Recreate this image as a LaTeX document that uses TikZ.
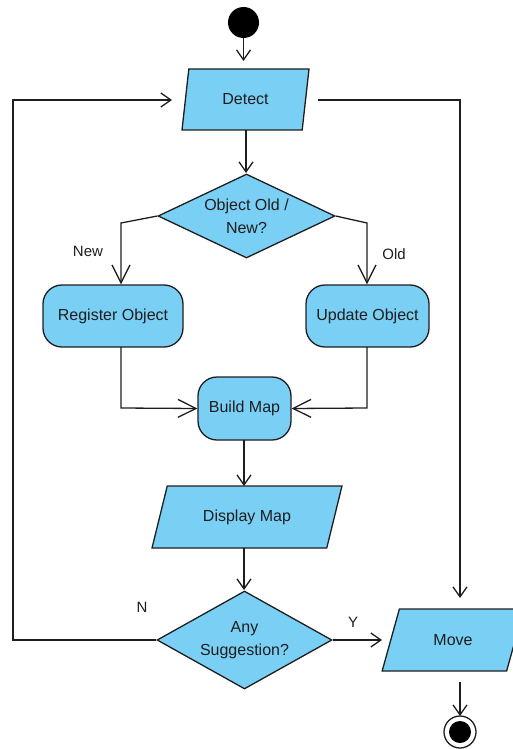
\documentclass[tikz,border=0pt]{standalone}
\usepackage{fontspec}
\setmainfont{Liberation Sans}
\usetikzlibrary{arrows.meta,shapes.geometric}

\definecolor{boxfill}{RGB}{122,207,245}
\definecolor{ink}{RGB}{30,30,30}

\tikzset{
  base/.style={draw=ink, line width=1.3pt, fill=boxfill, inner sep=0pt,
               font=\fontsize{16}{22}\selectfont, text=ink},
  action/.style={base, rectangle, rounded corners=19pt},
  iobox/.style={base, trapezium, trapezium stretches=true},
  decision/.style={base, diamond},
  flow/.style={draw=ink, line width=1.3pt},
  bigtip/.style={flow, -{Straight Barb[length=18pt,width=18pt,line width=1.3pt]}},
  smalltip/.style={flow, -{Straight Barb[length=10pt,width=14pt,line width=1.3pt]}},
  guard/.style={font=\fontsize{15}{18}\selectfont, text=ink},
  inside/.style={align=center, font=\fontsize{16}{23}\selectfont, text=ink}
}

\begin{document}
\begin{tikzpicture}[x=1pt, y=-1pt]
  \useasboundingbox (0,0) rectangle (513,749);

  % initial and final states
  \node[circle, fill=black, minimum size=31pt, inner sep=0pt] (start) at (243.5,22.5) {};
  \node[circle, draw=ink, line width=1.3pt, fill=white, minimum size=32pt, inner sep=0pt] (stop) at (460,732) {};
  \node[circle, fill=black, minimum size=22pt, inner sep=0pt] (stopdot) at (460,732) {};

  % activities
  \node[iobox, trapezium left angle=76, trapezium right angle=104,
        minimum width=127pt, minimum height=61pt] (detect) at (245.5,99.5) {Detect};
  \node[decision, minimum width=177pt, minimum height=84pt,
        label={[inside]center:Object Old /\\New?}] (oldnew) at (246.5,216) {};
  \node[action, minimum width=140pt, minimum height=62pt] (register) at (113,316) {Register Object};
  \node[action, minimum width=123pt, minimum height=62pt] (update) at (367.5,316) {Update Object};
  \node[action, minimum width=93pt, minimum height=63pt] (build) at (244.5,408.5) {Build Map};
  \node[iobox, trapezium left angle=60.6, trapezium right angle=119.4,
        minimum width=190pt, minimum height=62pt] (display) at (247,517) {Display Map};
  \node[decision, minimum width=175pt, minimum height=98pt,
        label={[inside]center:Any\\Suggestion?}] (suggest) at (244.5,640) {};
  \node[iobox, trapezium left angle=60.6, trapezium right angle=119.4,
        minimum width=142pt, minimum height=62pt] (move) at (453,640) {Move};

  % connector bends and free ends
  \coordinate (startout) at (243.5,38);
  \coordinate (detectin) at (243.5,61);
  \coordinate (detectout) at (246,130);
  \coordinate (oldnewin) at (246,173);
  \coordinate (newbend) at (121,223);
  \coordinate (oldbend) at (367,223);
  \coordinate (regout) at (121,347);
  \coordinate (updout) at (367,347);
  \coordinate (buildinL) at (121,408);
  \coordinate (buildinR) at (367,408);
  \coordinate (buildout) at (244,440);
  \coordinate (dispin) at (244,486);
  \coordinate (dispout) at (244,548);
  \coordinate (suggin) at (244,590);
  \coordinate (loopcorner) at (13,640);
  \coordinate (loopin) at (172,100);
  \coordinate (moveroute) at (318,100);
  \coordinate (movecorner) at (460,100);
  \coordinate (movein) at (460,598);
  \coordinate (yin) at (382,640);
  \coordinate (moveout) at (460,682);
  \coordinate (stopin) at (460,716);

  % connectors
  \draw[smalltip] (startout) -- (detectin);
  \draw[smalltip] (detectout) -- (oldnewin);
  \draw[bigtip] (oldnew.west) -- (newbend) -- (register.north -| newbend);
  \draw[bigtip] (oldnew.east) -- (oldbend) -- (update.north -| oldbend);
  \draw[bigtip] (regout) -- (buildinL) -- (build.west);
  \draw[bigtip] (updout) -- (buildinR) -- (build.east);
  \draw[smalltip] (buildout) -- (dispin);
  \draw[smalltip] (dispout) -- (suggin);
  \draw[smalltip] (suggest.west) -- (loopcorner) |- (loopin);
  \draw[smalltip] (suggest.east) -- (yin);
  \draw[smalltip] (moveroute) -- (movecorner) -- (movein);
  \draw[smalltip] (moveout) -- (stopin);

  % guards
  \node[guard] (lnew) at (88,251) {New};
  \node[guard] (lold) at (394,254) {Old};
  \node[guard] (lno) at (142,607) {N};
  \node[guard] (lyes) at (353,622) {Y};
\end{tikzpicture}
\end{document}
